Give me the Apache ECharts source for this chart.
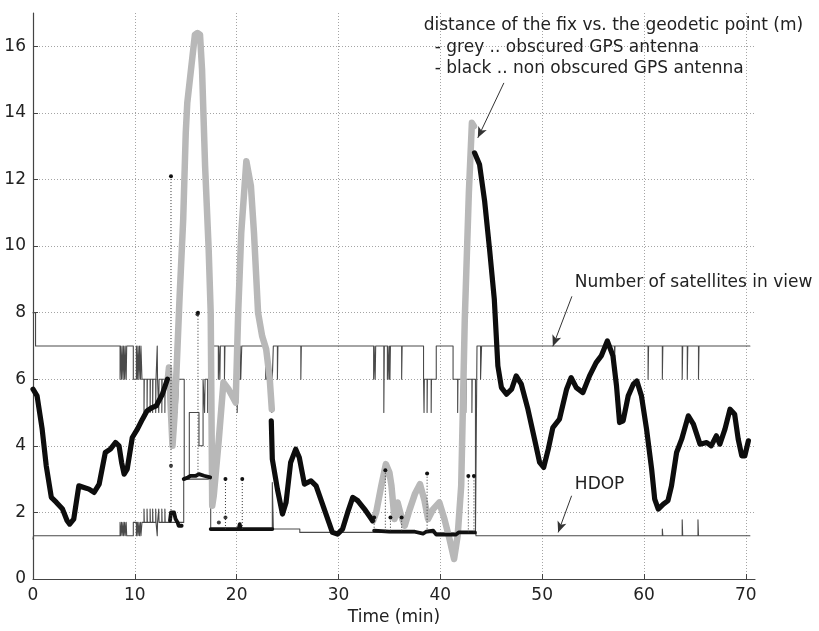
<!DOCTYPE html>
<html>
<head>
<meta charset="utf-8">
<script src="https://cdn.jsdelivr.net/npm/echarts@6/dist/echarts.min.js"></script>
<style>
  html, body { margin: 0; padding: 0; background: #ffffff; }
  #chart { width: 819px; height: 631px; }
</style>
</head>
<body>
<div id="chart"></div>
<script>
// Time axis (minutes) and distance / count axis
const timeMin = 0, timeMax = 70.9, timeStep = 10;
const valMin = 0, valMax = 17, valStep = 2;

// Distance of the fix vs. the geodetic point (m), non obscured antenna: [time, metres]
const distClearA = [
  [0,5.7],[0.4,5.5],[0.9,4.5],[1.3,3.4],[1.8,2.45],[2.3,2.3],[2.9,2.1],[3.35,1.75],[3.6,1.65],
  [4.0,1.8],[4.5,2.8],[5.0,2.75],[5.5,2.7],[6.0,2.6],[6.5,2.85],[7.1,3.8],[7.6,3.9],[8.1,4.1],
  [8.45,4.0],[8.7,3.5],[8.95,3.15],[9.25,3.3],[9.75,4.25],[10.25,4.5],[10.75,4.8],[11.2,5.05],
  [11.7,5.15],[12.1,5.2],[12.7,5.55],[13.2,6.0]
];
const distClearB = [
  [23.4,4.75],[23.5,3.6],[24.0,2.7],[24.5,1.95],[24.85,2.3],[25.3,3.5],[25.8,3.9],[26.15,3.65],
  [26.65,2.85],[27.3,2.95],[27.8,2.8],[28.6,2.1],[29.4,1.4],[29.9,1.35],[30.4,1.5],[30.9,2.0],
  [31.4,2.45],[31.9,2.35],[32.55,2.1],[33.35,1.75]
];
const distClearC = [
  [43.36,12.8],[43.85,12.45],[44.35,11.35],[44.85,9.85],[45.3,8.4],[45.65,6.4],[46.0,5.75],
  [46.5,5.55],[47.0,5.7],[47.45,6.1],[47.95,5.85],[48.6,5.1],[49.25,4.2],[49.75,3.5],[50.15,3.35],
  [50.6,3.9],[51.05,4.55],[51.7,4.8],[52.4,5.7],[52.85,6.05],[53.35,5.75],[54.0,5.6],[54.65,6.1],
  [55.3,6.5],[55.8,6.7],[56.4,7.15],[56.95,6.7],[57.3,5.8],[57.6,4.7],[57.95,4.75],[58.45,5.5],
  [58.95,5.85],[59.3,5.95],[59.75,5.5],[60.25,4.5],[60.75,3.3],[61.05,2.4],[61.4,2.1],[61.9,2.25],
  [62.35,2.35],[62.7,2.8],[63.2,3.8],[63.7,4.2],[64.35,4.9],[64.85,4.65],[65.5,4.05],[66.15,4.1],
  [66.6,4.0],[67.1,4.3],[67.45,4.05],[67.95,4.5],[68.45,5.1],[68.9,4.95],[69.25,4.2],[69.6,3.7],
  [69.9,3.7],[70.25,4.15]
];

// Same distance, obscured antenna: [time, metres]
const distObscuredA = [
  [13.2,5.9],[13.35,6.35],[13.5,5.3],[13.7,4.0],[13.9,4.9],[14.1,6.3],[14.4,8.5],[14.75,10.8],
  [15.0,13.4],[15.15,14.3],[15.55,15.4],[15.9,16.35],[16.15,16.4],[16.4,16.35],[16.6,15.3],
  [16.9,12.4],[17.25,9.9],[17.45,8.0],[17.6,2.2],[17.75,2.5],[18.25,4.2],[18.7,5.9],[19.2,5.7],
  [19.9,5.3],[20.15,8.0],[20.45,10.4],[20.95,12.55],[21.4,11.8],[21.7,10.4],[22.1,8.0],
  [22.5,7.3],[22.9,6.9],[23.25,6.0],[23.45,5.1]
];
const distObscuredB = [
  [33.4,1.75],[33.7,2.0],[34.2,2.8],[34.65,3.45],[35.0,3.2],[35.2,2.8],[35.5,1.8],[35.8,2.3],
  [36.15,1.9],[36.5,1.6],[37.0,2.1],[37.5,2.55],[38.0,2.85],[38.45,2.35],[38.8,1.8],[39.3,2.1],
  [39.9,2.3],[40.4,1.8],[40.9,1.2],[41.35,0.6],[41.7,1.3],[42.05,2.8],[42.4,7.8],[42.8,11.6],
  [43.1,13.7],[43.3,13.6]
];

// Number of satellites in view: [time, count], each value held until the next sample
const satellitesInView = [
  [0,8],[0.25,7],
  [8.55,6],[8.6,7],[8.7,6],[8.75,7],[8.85,6],[8.9,7],[9.0,6],[9.05,7],[9.15,6],[9.2,7],
  [9.85,6],[10.15,7],[10.25,6],[10.3,7],[10.4,6],[10.45,7],[10.55,6],[10.6,7],[10.7,6],
  [10.9,5],[10.93,6],[11.2,5],[11.23,6],[11.5,5],[11.53,6],[11.75,5],[11.78,6],[12.05,5],[12.08,6],
  [12.2,7],[12.23,6],[12.35,5],[12.38,6],[12.65,5],[12.68,6],[12.95,5],[12.98,6],
  [13.4,5],[13.55,4],[13.6,5],[13.8,6],[13.85,5],[14.1,6],[14.15,5],[14.3,6],
  [14.85,3],[15.35,5],[16.3,4],[16.7,6],[16.85,5],[16.9,6],[17.15,5],[17.2,6],[17.6,7],
  [18.2,6],[18.25,7],[18.35,6],[18.4,7],[18.8,6],[18.85,7],[20.05,5],[20.1,6],[20.35,7],[20.4,6],
  [20.5,7],[22.85,6],[22.9,7],[22.95,6],[23.0,7],[23.05,6],[23.45,5],[23.5,6],[23.6,7],
  [24.0,6],[24.05,7],[26.3,6],[26.35,7],
  [33.45,6],[33.5,7],[33.6,6],[33.65,7],[34.45,5],[34.5,7],[34.8,6],[34.85,7],[34.95,6],[35.0,7],
  [35.05,6],[35.1,7],[36.2,6],[36.25,7],
  [38.35,6],[38.4,5],[38.43,6],[38.7,5],[38.73,6],[39.1,5],[39.13,6],[39.6,7],
  [41.25,6],[41.7,5],[41.73,6],[42.1,5],[42.13,6],[42.4,7],[42.45,6],[42.5,5],[42.53,6],
  [43.1,5],[43.13,6],[43.45,1.35],[43.6,7],[43.95,6],[44.05,7],
  [57.1,6.4],[57.15,7],[60.4,6],[60.45,7],[61.8,6],[61.85,7],[63.75,6],[63.8,7],[64.25,6],
  [64.3,7],[65.35,6],[65.4,7],[70.4,7]
];

// HDOP: [time, value], each value held until the next sample
const hdopTrace = [
  [0,1.2],[0.05,1.3],
  [8.55,1.7],[8.6,1.3],[8.7,1.7],[8.75,1.3],[8.85,1.7],[8.9,1.3],[9.0,1.7],[9.05,1.3],[9.15,1.7],[9.2,1.3],
  [9.85,1.7],[10.15,1.3],[10.25,1.7],[10.3,1.3],[10.4,1.7],[10.45,1.3],[10.55,1.7],[10.6,1.3],[10.7,1.7],
  [10.9,2.1],[10.93,1.7],[11.2,2.1],[11.23,1.7],[11.5,2.1],[11.53,1.7],[11.75,2.1],[11.78,1.7],
  [12.05,2.1],[12.08,1.7],[12.2,1.3],[12.23,1.7],[12.35,2.1],[12.38,1.7],[12.65,2.1],[12.68,1.7],
  [12.95,2.1],[12.98,1.7],[13.35,1.7],[14.8,3.0],[17.45,1.5],[23.5,2.9],[23.6,1.5],[26.2,1.4],
  [33.45,1.38],[43.5,1.3],[61.8,1.5],[61.85,1.3],[63.75,1.78],[63.8,1.3],[65.3,1.78],[65.35,1.3],
  [70.4,1.3]
];

// HDOP while the antenna is obscured (heavy trace): [time, value]
const hdopObscuredA = [[13.45,1.75],[13.55,2.0],[13.85,2.0],[14.0,1.8],[14.2,1.7],[14.3,1.6],[14.6,1.6]];
const hdopObscuredB = [[14.8,3.0],[15.2,3.05],[15.5,3.1],[16.0,3.1],[16.3,3.15],[16.8,3.1],[17.4,3.05]];
const hdopObscuredC = [[17.45,1.5],[20.2,1.5],[20.3,1.65],[20.4,1.5],[23.5,1.5]];
const hdopObscuredD = [
  [33.5,1.45],[35.0,1.42],[37.5,1.42],[38.3,1.36],[38.6,1.42],[39.3,1.45],[39.6,1.33],
  [41.5,1.33],[41.8,1.4],[43.4,1.4]
];

// HDOP outliers shown as stems: [time, base, peak]
const hdopSpikes = [
  [13.55,1.8,12.1],[16.2,3.1,8.0],[18.9,1.5,3.0],[20.55,1.5,3.0],[33.5,1.45,1.85],
  [34.6,1.45,3.27],[35.1,1.45,1.85],[36.2,1.45,1.85],[38.7,1.42,3.17],[42.75,1.4,3.09],[43.3,1.4,3.09]
];
const hdopDots = [[13.55,3.4],[18.25,1.7],[18.9,1.85],[16.15,7.95]];

const FONT = '"DejaVu Sans", "Liberation Sans", Arial, sans-serif';
const chart = echarts.init(document.getElementById('chart'), null, { renderer: 'canvas' });

function lineSeries(data, color, width, z, step) {
  return {
    type: 'line', data: data, z: z, step: step || false,
    showSymbol: false, symbol: 'none', silent: true,
    lineStyle: { color: color, width: width, cap: 'round', join: 'round' }
  };
}

const satSeries = lineSeries(satellitesInView, '#4a4a4a', 1.1, 2, 'end');
satSeries.markLine = {
  silent: true, symbol: ['none', 'arrow'], symbolSize: [7, 11],
  label: { show: false },
  lineStyle: { color: '#333', width: 1, type: 'solid' },
  data: [
    [{ coord: [46.24, 14.9] }, { coord: [43.68, 13.25] }],
    [{ coord: [52.92, 8.49] }, { coord: [51.05, 6.99] }],
    [{ coord: [52.89, 2.5] }, { coord: [51.57, 1.4] }]
  ]
};

const option = {
  animation: false,
  backgroundColor: '#ffffff',
  grid: { left: 33, right: 64, top: 13, bottom: 51, containLabel: false },
  xAxis: {
    type: 'value', min: timeMin, max: timeMax, interval: timeStep,
    name: 'Time (min)', nameLocation: 'middle', nameGap: 30,
    nameTextStyle: { color: '#222', fontSize: 17, fontFamily: FONT },
    axisLine: { show: true, onZero: false, lineStyle: { color: '#444', width: 1.2 } },
    axisTick: { show: true, inside: true, length: 5, lineStyle: { color: '#444' } },
    axisLabel: {
      color: '#222', fontSize: 17, fontFamily: FONT, margin: 8,
      showMaxLabel: false,
      formatter: v => (v % timeStep === 0 ? String(v) : '')
    },
    splitLine: { show: true, showMinLine: false, showMaxLine: false,
      lineStyle: { color: '#a4a4a4', width: 1, type: [1, 2] } }
  },
  yAxis: {
    type: 'value', min: valMin, max: valMax, interval: valStep,
    axisLine: { show: true, onZero: false, lineStyle: { color: '#444', width: 1.2 } },
    axisTick: { show: true, inside: true, length: 5, lineStyle: { color: '#444' } },
    axisLabel: {
      color: '#222', fontSize: 17, fontFamily: FONT, margin: 7,
      showMaxLabel: false,
      formatter: v => (v % valStep === 0 ? String(v) : '')
    },
    splitLine: { show: true, showMinLine: false, showMaxLine: false,
      lineStyle: { color: '#a4a4a4', width: 1, type: [1, 2] } }
  },
  series: [
    satSeries,
    lineSeries(hdopTrace, '#4a4a4a', 1.1, 2, 'end'),
    lineSeries(distObscuredA, '#b8b8b8', 6.5, 3),
    lineSeries(distObscuredB, '#b8b8b8', 6.5, 3),
    lineSeries(distClearA, '#0d0d0d', 5.2, 4),
    lineSeries(distClearB, '#0d0d0d', 5.2, 4),
    lineSeries(distClearC, '#0d0d0d', 5.2, 4),
    lineSeries(hdopObscuredA, '#111111', 3.8, 5),
    lineSeries(hdopObscuredB, '#111111', 3.8, 5),
    lineSeries(hdopObscuredC, '#111111', 3.8, 5),
    lineSeries(hdopObscuredD, '#111111', 3.8, 5),
    {
      type: 'custom', z: 6, silent: true, data: hdopSpikes,
      encode: { x: 0, y: [1, 2] },
      renderItem: function (params, api) {
        const p0 = api.coord([api.value(0), api.value(1)]);
        const p1 = api.coord([api.value(0), api.value(2)]);
        return {
          type: 'group',
          children: [
            { type: 'line', shape: { x1: p0[0], y1: p0[1], x2: p1[0], y2: p1[1] },
              style: { stroke: '#333', lineWidth: 1, lineDash: [1, 2] } },
            { type: 'circle', shape: { cx: p1[0], cy: p1[1], r: 2 }, style: { fill: '#111' } }
          ]
        };
      }
    },
    {
      type: 'scatter', z: 6, silent: true, data: hdopDots,
      symbol: 'circle', symbolSize: 4, itemStyle: { color: '#111' }
    }
  ]
};
chart.setOption(option);

// Annotation texts anchored in data coordinates
const notes = [
  { text: 'distance of the fix vs. the geodetic point (m)', at: [38.37, 16.61] },
  { text: '- grey .. obscured GPS antenna', at: [39.45, 15.95] },
  { text: '- black .. non obscured GPS antenna', at: [39.45, 15.32] },
  { text: 'Number of satellites in view', at: [53.21, 8.91] },
  { text: 'HDOP', at: [53.21, 2.85] }
];
chart.setOption({
  graphic: notes.map(n => {
    const p = chart.convertToPixel({ gridIndex: 0 }, n.at);
    return {
      type: 'text', x: p[0], y: p[1], z: 10, silent: true,
      style: { text: n.text, fill: '#222', font: '17px ' + FONT, align: 'left', verticalAlign: 'middle' }
    };
  })
});
</script>
</body>
</html>
